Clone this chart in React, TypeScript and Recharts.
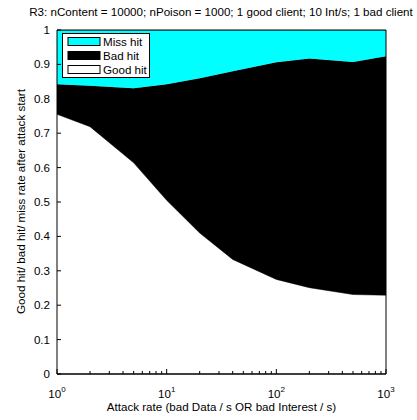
import React from 'react';
import { AreaChart, Area, XAxis, YAxis, Legend, ReferenceArea } from 'recharts';

const attackRate = [1, 2, 5, 10, 20, 40, 100, 200, 500, 1000];
const goodHit = [0.755, 0.719, 0.614, 0.505, 0.41, 0.333, 0.275, 0.251, 0.231, 0.229];
const badHit = [0.087, 0.119, 0.217, 0.337, 0.45, 0.547, 0.631, 0.666, 0.676, 0.695];
const missHit = [0.158, 0.162, 0.169, 0.158, 0.14, 0.12, 0.094, 0.083, 0.093, 0.076];

const yTicks = [0, 0.1, 0.2, 0.3, 0.4, 0.5, 0.6, 0.7, 0.8, 0.9, 1];
const xMajor = [1, 10, 100, 1000];
const xMinor = [2, 3, 4, 5, 6, 7, 8, 9, 20, 30, 40, 50, 60, 70, 80, 90, 200, 300, 400, 500, 600, 700, 800, 900];

const legendItems = [
  { name: 'Miss hit', color: '#00ffff' },
  { name: 'Bad hit', color: '#000000' },
  { name: 'Good hit', color: '#ffffff' },
];

const FONT = '"Liberation Sans", Arial, Helvetica, sans-serif';
const FS = 11.6;

const data = attackRate.map((x, i) => ({
  x,
  good: goodHit[i],
  bad: badHit[i],
  miss: missHit[i],
}));

const XTick = (props: any) => {
  const { x, y, payload } = props;
  const axisY = y - 10;
  const major = xMajor.includes(payload.value);
  const exp = Math.round(Math.log10(payload.value));
  return (
    <g>
      <line x1={x} x2={x} y1={axisY} y2={axisY - (major ? 5 : 3)} stroke="#000" />
      {major && (
        <text x={x} y={axisY + 24} textAnchor="middle" fontSize={FS} fontFamily={FONT} fill="#000">
          10<tspan dy={-6} fontSize={8}>{exp}</tspan>
        </text>
      )}
    </g>
  );
};

const YTick = (props: any) => {
  const { x, y, payload } = props;
  const axisX = x + 7;
  return (
    <g>
      <line x1={axisX} x2={axisX + 4} y1={y} y2={y} stroke="#000" />
      <text x={x} y={y} dy={4} textAnchor="end" fontSize={FS} fontFamily={FONT} fill="#000">
        {String(payload.value)}
      </text>
    </g>
  );
};

const LegendBox = () => (
  <svg width={88} height={45}>
    <rect x={0.5} y={0.5} width={87} height={44} fill="#fff" stroke="#000" />
    {legendItems.map((item, i) => (
      <g key={item.name}>
        <rect x={6} y={4.5 + i * 14} width={32} height={8} fill={item.color} stroke="#000" />
        <text x={41} y={13 + i * 14} fontSize={FS} fontFamily={FONT} fill="#000">
          {item.name}
        </text>
      </g>
    ))}
  </svg>
);

export default function App() {
  return (
    <div style={{ position: 'absolute', left: 0, top: 0, width: 417, height: 420, background: '#fff' }}>
      <AreaChart
        width={417}
        height={420}
        data={data}
        margin={{ top: 30, right: 31, left: 0, bottom: 0 }}
      >
        <Area
          type="linear"
          dataKey="good"
          stackId="1"
          stroke="#000"
          strokeWidth={0.5}
          fill="#ffffff"
          fillOpacity={1}
          dot={false}
          activeDot={false}
          isAnimationActive={false}
        />
        <Area
          type="linear"
          dataKey="bad"
          stackId="1"
          stroke="#000"
          strokeWidth={0.5}
          fill="#000000"
          fillOpacity={1}
          dot={false}
          activeDot={false}
          isAnimationActive={false}
        />
        <Area
          type="linear"
          dataKey="miss"
          stackId="1"
          stroke="#000"
          strokeWidth={0.5}
          fill="#00ffff"
          fillOpacity={1}
          dot={false}
          activeDot={false}
          isAnimationActive={false}
        />
        <XAxis
          dataKey="x"
          type="number"
          scale="log"
          domain={[1, 1000]}
          ticks={[...xMajor, ...xMinor]}
          interval={0}
          height={46}
          tickSize={0}
          tickMargin={10}
          tickLine={false}
          axisLine={{ stroke: '#000' }}
          tick={<XTick />}
          allowDataOverflow
        />
        <YAxis
          type="number"
          domain={[0, 1]}
          ticks={yTicks}
          interval={0}
          width={57}
          tickSize={0}
          tickMargin={7}
          tickLine={false}
          axisLine={false}
          tick={<YTick />}
          allowDataOverflow
        />
        <ReferenceArea
          x1={1}
          x2={1000}
          y1={0}
          y2={1}
          fill="none"
          fillOpacity={0}
          stroke="#000"
          strokeWidth={1}
          ifOverflow="visible"
        />
        <Legend
          layout="horizontal"
          verticalAlign="middle"
          align="center"
          wrapperStyle={{ left: 62, top: 33, width: 88, height: 45 }}
          content={() => <LegendBox />}
        />
        <text x={221} y={15.5} textAnchor="middle" fontSize={FS} fontFamily={FONT} fill="#000">
          R3: nContent = 10000; nPoison = 1000; 1 good client; 10 Int/s; 1 bad client
        </text>
        <text
          x={221.5}
          y={411}
          textAnchor="middle"
          fontSize={FS}
          fontFamily={FONT}
          fill="#000"
        >
          Attack rate (bad Data / s OR bad Interest / s)
        </text>
        <text
          transform="rotate(-90)"
          x={-201.5}
          y={25}
          textAnchor="middle"
          fontSize={FS}
          fontFamily={FONT}
          fill="#000"
        >
          Good hit/ bad hit/ miss rate after attack start
        </text>
      </AreaChart>
    </div>
  );
}
